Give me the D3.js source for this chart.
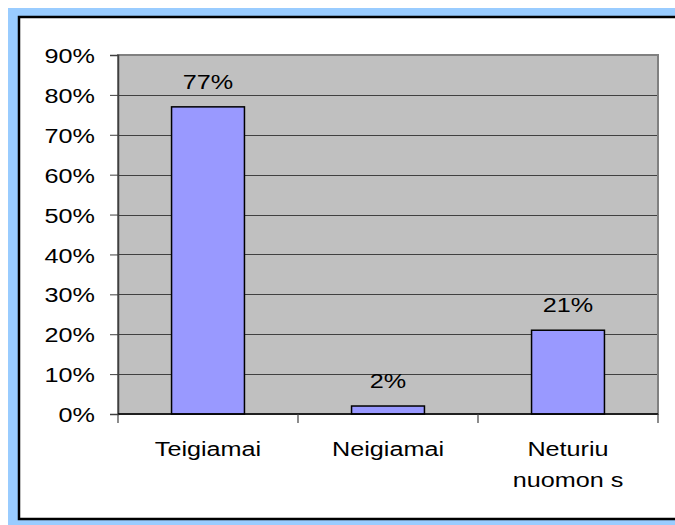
<!DOCTYPE html>
<html>
<head>
<meta charset="utf-8">
<script src="https://cdn.jsdelivr.net/npm/d3@7"></script>
<style>
  html, body { margin: 0; padding: 0; background: #fff; overflow: hidden; }
  svg { display: block; }
</style>
</head>
<body>
<script>
// chart data
const categories = ["Teigiamai", "Neigiamai", "Neturiu\nnuomon s"];
const values = [0.77, 0.02, 0.21];
const yTicks = [0, 0.1, 0.2, 0.3, 0.4, 0.5, 0.6, 0.7, 0.8, 0.9];

const W = 675, H = 525;
const plot = { left: 118, right: 658, top: 55, bottom: 414 };
const font = "Arial, 'Liberation Sans', sans-serif";
const stretch = 1.2; // text in the reference is horizontally widened

const svg = d3.select("body").append("svg")
  .attr("width", W)
  .attr("height", H);

// frame: light blue band on left/top/bottom, black border, white panel open to the right
svg.append("rect").attr("x", 8).attr("y", 8).attr("width", W - 8).attr("height", H - 8)
  .attr("fill", "#99ccff");
svg.append("rect").attr("x", 19).attr("y", 17).attr("width", W - 19).attr("height", 502)
  .attr("fill", "#fff");
svg.append("path")
  .attr("d", `M${W},17H19V519H${W}`)
  .attr("fill", "none").attr("stroke", "#000").attr("stroke-width", 2.5);

const x = d3.scaleBand()
  .domain(categories)
  .range([plot.left, plot.right])
  .paddingInner(0.595)
  .paddingOuter(0.2975);

const y = d3.scaleLinear().domain([0, 0.9]).range([plot.bottom, plot.top]);
const fmt = d3.format(".0%");

// plot area
svg.append("rect")
  .attr("x", plot.left).attr("y", plot.top)
  .attr("width", plot.right - plot.left).attr("height", plot.bottom - plot.top)
  .attr("fill", "#c0c0c0");

// gridlines
svg.append("g").selectAll("line")
  .data(yTicks.filter(d => d > 0 && d < 0.9))
  .join("line")
  .attr("x1", plot.left).attr("x2", plot.right)
  .attr("y1", d => Math.round(y(d)) + 0.5).attr("y2", d => Math.round(y(d)) + 0.5)
  .attr("stroke", "#404040").attr("stroke-width", 1);

// plot border
svg.append("rect")
  .attr("x", plot.left).attr("y", plot.top)
  .attr("width", plot.right - plot.left).attr("height", plot.bottom - plot.top)
  .attr("fill", "none").attr("stroke", "#808080").attr("stroke-width", 2);

// bars
svg.append("g").selectAll("rect")
  .data(values)
  .join("rect")
  .attr("x", (d, i) => x(categories[i]))
  .attr("y", d => y(d))
  .attr("width", x.bandwidth())
  .attr("height", d => y(0) - y(d))
  .attr("fill", "#9999ff")
  .attr("stroke", "#000").attr("stroke-width", 1.5);

// y axis
const yAxis = svg.append("g")
  .attr("transform", `translate(${plot.left},0)`)
  .call(d3.axisLeft(y).tickValues(yTicks).tickFormat(fmt).tickSize(8).tickPadding(0));
yAxis.select(".domain").attr("stroke", "#404040").attr("stroke-width", 1.5);
yAxis.selectAll(".tick line").attr("stroke", "#404040");
yAxis.selectAll(".tick text").remove();
yAxis.selectAll(".tick").append("text")
  .attr("transform", `translate(-23,0) scale(${stretch},1)`)
  .attr("text-anchor", "end")
  .attr("dy", "0.36em")
  .attr("font-family", font).attr("font-size", 21)
  .attr("fill", "#000")
  .text(d => fmt(d));

// x axis line and category separators
svg.append("line")
  .attr("x1", plot.left).attr("x2", plot.right)
  .attr("y1", plot.bottom).attr("y2", plot.bottom)
  .attr("stroke", "#000").attr("stroke-width", 1.5);
const sepX = d3.range(categories.length + 1).map(i => plot.left + i * (plot.right - plot.left) / categories.length);
svg.append("g").selectAll("line")
  .data(sepX)
  .join("line")
  .attr("x1", d => Math.round(d)).attr("x2", d => Math.round(d))
  .attr("y1", plot.bottom).attr("y2", plot.bottom + 9)
  .attr("stroke", "#404040").attr("stroke-width", 1.2);

// category labels
const cat = svg.append("g").selectAll("text")
  .data(categories)
  .join("text")
  .attr("transform", d => `translate(${x(d) + x.bandwidth() / 2},456) scale(${stretch},1)`)
  .attr("text-anchor", "middle")
  .attr("font-family", font).attr("font-size", 21)
  .attr("fill", "#000");
cat.selectAll("tspan")
  .data(d => d.split("\n"))
  .join("tspan")
  .attr("x", 0)
  .attr("dy", (d, i) => i === 0 ? 0 : 31)
  .attr("xml:space", "preserve")
  .style("white-space", "pre")
  .text(d => d);

// value labels
svg.append("g").selectAll("text")
  .data(values)
  .join("text")
  .attr("transform", (d, i) => `translate(${x(categories[i]) + x.bandwidth() / 2},${y(d) - 18}) scale(${stretch},1)`)
  .attr("text-anchor", "middle")
  .attr("font-family", font).attr("font-size", 21)
  .attr("fill", "#000")
  .text(d => fmt(d));
</script>
</body>
</html>
